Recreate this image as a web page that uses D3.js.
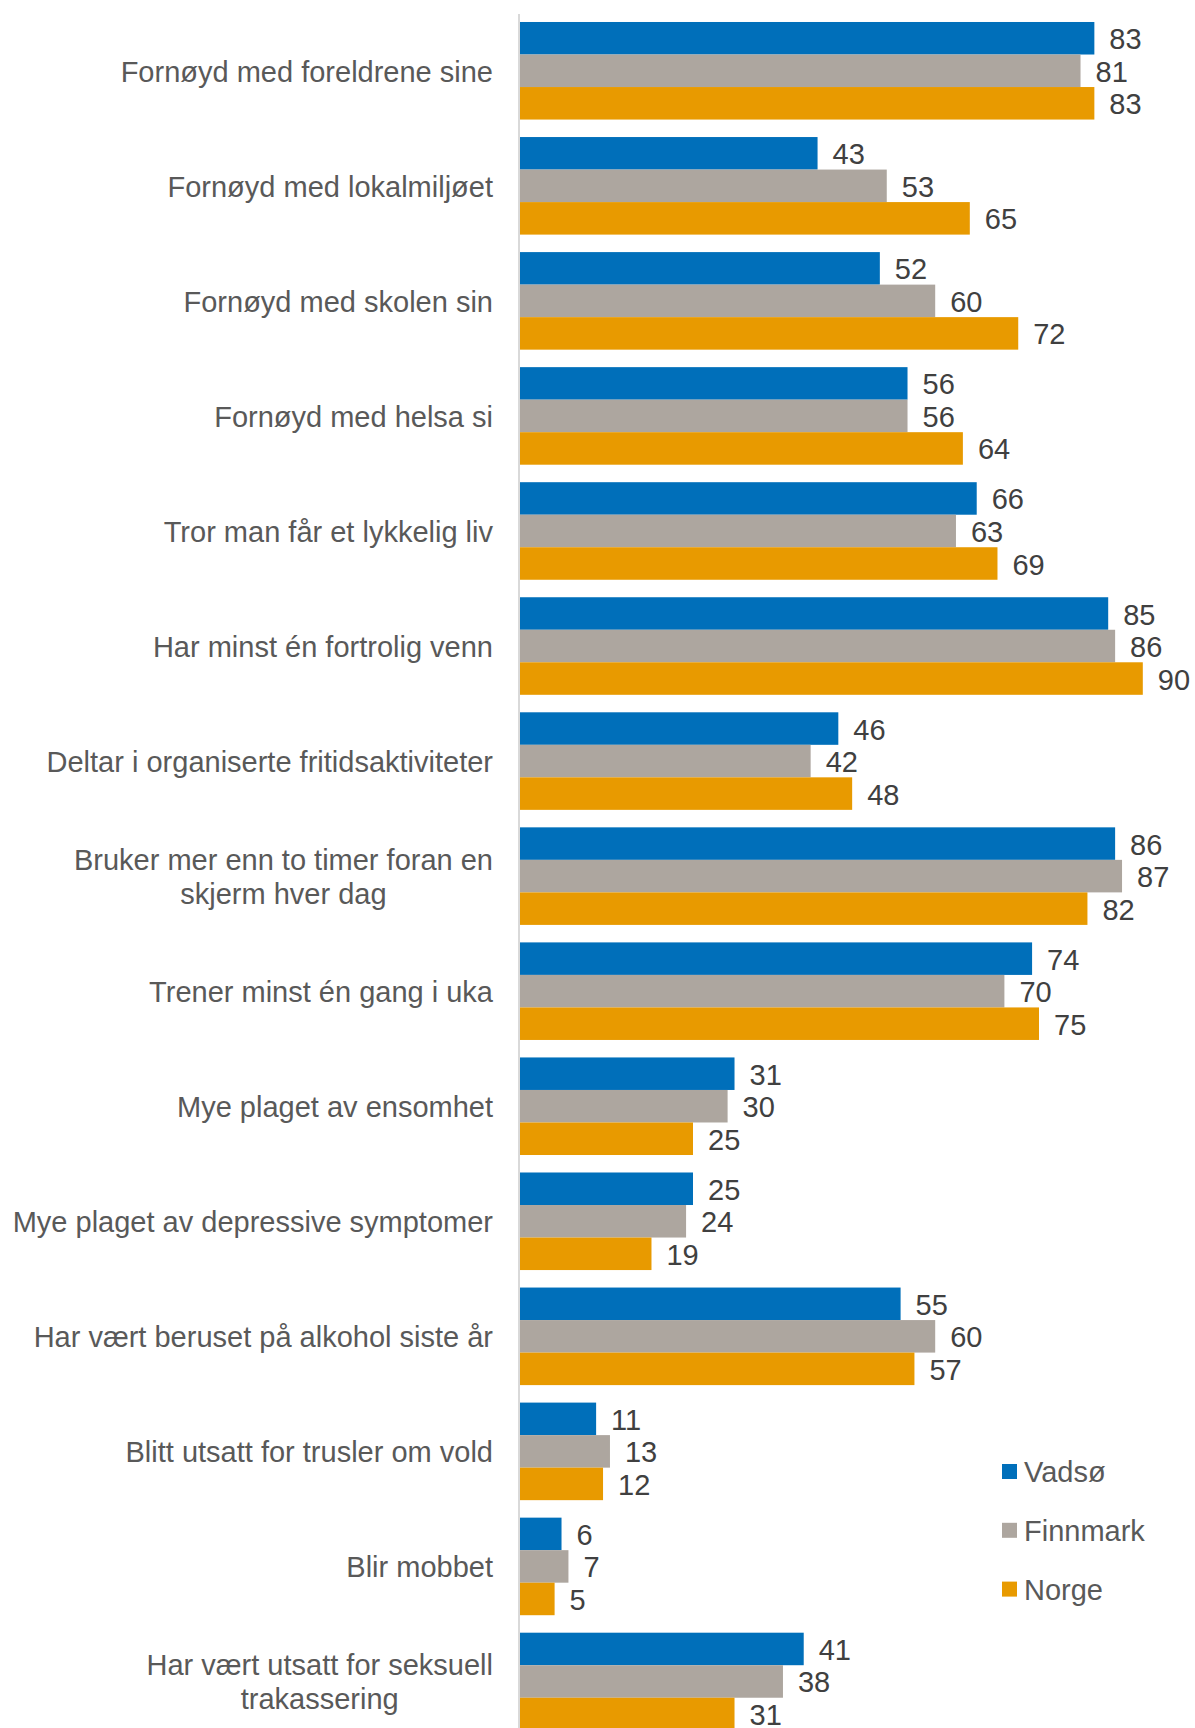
<!DOCTYPE html>
<html>
    <head>
        <meta charset="UTF-8">
        <title>Vadsø, Finnmark, Norge</title>
        <style type="text/css">
            body{
                margin: 0;
                background: #fff;
            }
            text{
                font-family: "Liberation Sans", Arial, sans-serif;
                font-size: 29px;
            }
            .cat{
                fill: #595959;
            }
            .val{
                fill: #404040;
            }
            .legend text{
                fill: #595959;
            }
        </style>
        <script src="https://d3js.org/d3.v7.min.js"></script>
    </head>
    <body>
        <svg width="1195" height="1728"></svg>

        <script type="text/javascript">
            var categories = [
                "Fornøyd med foreldrene sine",
                "Fornøyd med lokalmiljøet",
                "Fornøyd med skolen sin",
                "Fornøyd med helsa si",
                "Tror man får et lykkelig liv",
                "Har minst én fortrolig venn",
                "Deltar i organiserte fritidsaktiviteter",
                "Bruker mer enn to timer foran en\nskjerm hver dag",
                "Trener minst én gang i uka",
                "Mye plaget av ensomhet",
                "Mye plaget av depressive symptomer",
                "Har vært beruset på alkohol siste år",
                "Blitt utsatt for trusler om vold",
                "Blir mobbet",
                "Har vært utsatt for seksuell\ntrakassering"
            ];

            var series = ["Vadsø", "Finnmark", "Norge"];

            var vadso    = [83, 43, 52, 56, 66, 85, 46, 86, 74, 31, 25, 55, 11, 6, 41];
            var finnmark = [81, 53, 60, 56, 63, 86, 42, 87, 70, 30, 24, 60, 13, 7, 38];
            var norge    = [83, 65, 72, 64, 69, 90, 48, 82, 75, 25, 19, 57, 12, 5, 31];

            var colors = ["#006fba", "#ada69f", "#e89a00"];

            var values = [vadso, finnmark, norge];

            var svg = d3.select("svg"),
                x0 = 520;

            var x = d3.scaleLinear().domain([0, 100]).range([x0, x0 + 692]);

            var y = d3.scaleBand()
                .domain(categories)
                .range([13.25, 13.25 + 15 * 115.05])
                .paddingInner(0.152)
                .paddingOuter(0.076);

            var ySub = d3.scaleBand()
                .domain(series)
                .range([0, y.bandwidth()]);

            var color = d3.scaleOrdinal().domain(series).range(colors);

            // bars
            var groups = svg.append("g").selectAll("g")
                .data(categories)
                .join("g")
                .attr("transform", d => `translate(0,${y(d)})`);

            groups.selectAll("rect")
                .data((d, i) => series.map((s, j) => ({s: s, v: values[j][i]})))
                .join("rect")
                .attr("x", x(0))
                .attr("y", d => ySub(d.s))
                .attr("width", d => x(d.v) - x(0))
                .attr("height", ySub.bandwidth())
                .attr("fill", d => color(d.s));

            groups.selectAll("text.val")
                .data((d, i) => series.map((s, j) => ({s: s, v: values[j][i]})))
                .join("text")
                .attr("class", "val")
                .attr("x", d => x(d.v) + 15)
                .attr("y", d => ySub(d.s) + ySub.bandwidth() / 2)
                .attr("dy", "0.38em")
                .text(d => d.v);

            // axis line
            svg.append("line")
                .attr("x1", x0 - 1).attr("x2", x0 - 1)
                .attr("y1", 14).attr("y2", 1728)
                .attr("stroke", "#d9d9d9")
                .attr("stroke-width", 2);

            // category labels, multi-line ones centred on each other
            var labelRight = x0 - 27;
            categories.forEach(function(c) {
                var lines = c.split("\n");
                var cy = y(c) + y.bandwidth() / 2;
                var t = svg.append("text").attr("class", "cat");
                lines.forEach(function(l, k) {
                    t.append("tspan")
                        .attr("y", cy + (k - (lines.length - 1) / 2) * 34)
                        .attr("dy", "0.38em")
                        .text(l);
                });
                var w = d3.max(t.selectAll("tspan").nodes(), n => n.getComputedTextLength());
                t.attr("text-anchor", "middle");
                t.selectAll("tspan").attr("x", labelRight - w / 2);
            });

            // legend
            var legend = svg.append("g")
                .attr("class", "legend")
                .attr("transform", "translate(1002,1472)");

            var li = legend.selectAll("g")
                .data(series)
                .join("g")
                .attr("transform", (d, i) => `translate(0,${i * 58.8})`);

            li.append("rect")
                .attr("y", -8)
                .attr("width", 15)
                .attr("height", 15)
                .attr("fill", d => color(d));

            li.append("text")
                .attr("x", 22)
                .attr("dy", "0.35em")
                .text(d => d);
        </script>
    </body>
</html>
